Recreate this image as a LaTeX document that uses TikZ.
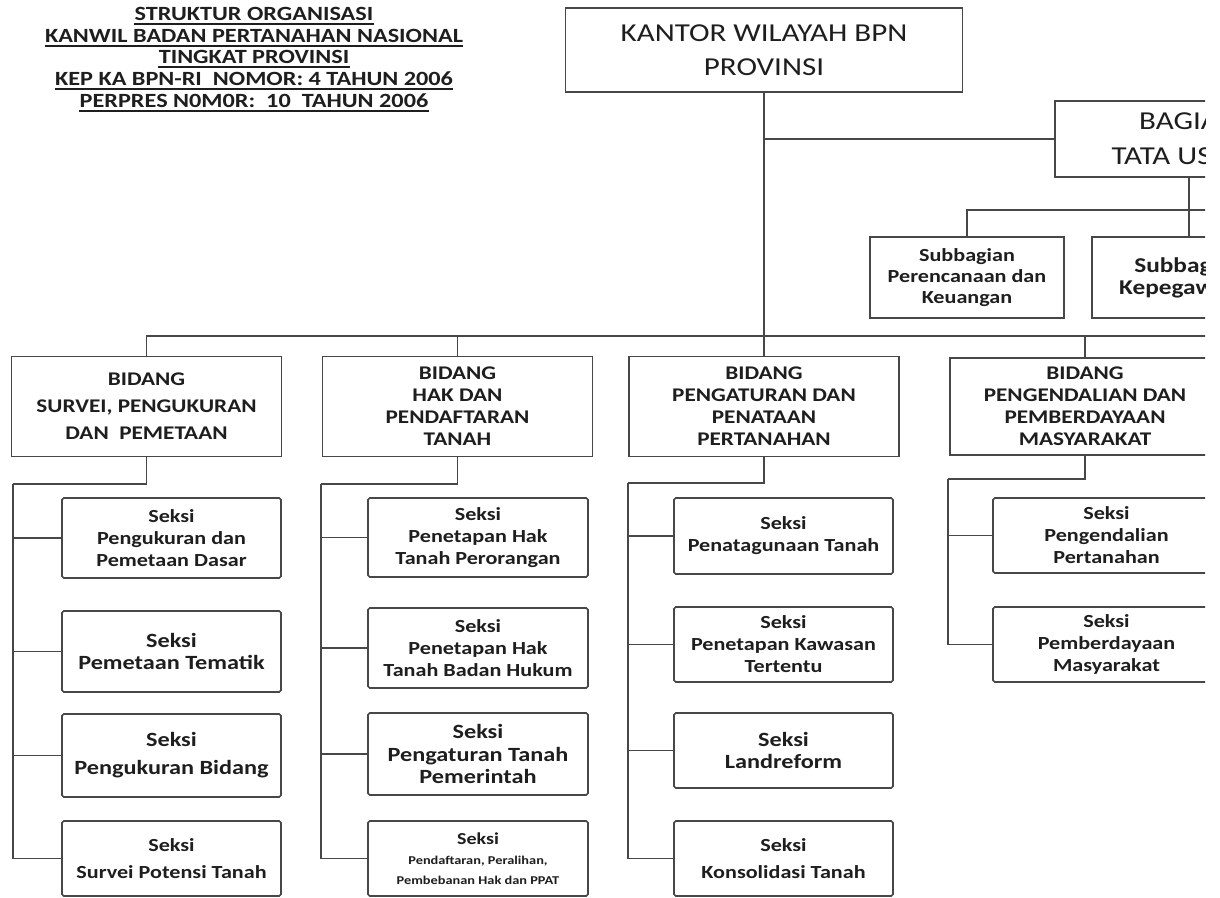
\documentclass[tikz,border=0pt]{standalone}
\usepackage{fontspec}
\setmainfont{Carlito}[FakeStretch=1.2]
\newcommand{\px}{0.02cm}
% fonts for the seksi boxes
\newcommand{\sk}{\bfseries\fontsize{10.5}{12.5}\selectfont}
\newcommand{\skwide}{\bfseries\fontsize{10.5}{15.5}\selectfont}
\newcommand{\skbig}{\bfseries\fontsize{11.5}{13}\selectfont}
\newcommand{\skbigwide}{\bfseries\fontsize{11.5}{16}\selectfont}
\newcommand{\sktiny}{\bfseries\fontsize{6.8}{11.3}\selectfont}
\definecolor{linegray}{HTML}{474747}
\definecolor{inkdark}{HTML}{1E1E1E}

\begin{document}
\begin{tikzpicture}[x=\px, y=-\px,
    conn/.style={draw=linegray, line width=1.1pt},
    unitbox/.style={draw=linegray, line width=0.9pt, fill=white, text=inkdark, align=center, inner sep=0pt},
    headbox/.style={unitbox, font=\fontsize{14.7}{19.5}\selectfont},
    bidangbox/.style={unitbox, minimum width=270*\px, minimum height=100*\px, font=\bfseries\fontsize{11}{12.5}\selectfont},
    seksibox/.style={unitbox, rounded corners=1pt}]
    \useasboundingbox (0,0) rectangle (1220,897);
    \clip (0,0) rectangle (1205,897);

    % Title, every line underlined
    \foreach \i/\y/\txt in {1/20/{STRUKTUR ORGANISASI}, 2/42/{KANWIL BADAN PERTANAHAN NASIONAL}, 3/63/{TINGKAT PROVINSI},
                            4/85/{KEP KA BPN-RI~~NOMOR: 4 TAHUN 2006}, 5/107/{PERPRES N0M0R:~~10~~TAHUN 2006}} {
        \node[anchor=base, inner sep=0pt, text=inkdark, font=\bfseries\fontsize{11.5}{12.2}\selectfont] (judul\i) at (254,\y) {\txt};
        \draw[draw=inkdark, line width=1.2pt] ([yshift=-2.2pt]judul\i.base west) -- ([yshift=-2.2pt]judul\i.base east);
    }

    % Top: kantor wilayah and bagian tata usaha
    \node[headbox, minimum width=397*\px, minimum height=84*\px] (kanwil) at (764,50) {KANTOR WILAYAH BPN\\PROVINSI};
    \node[headbox, font=\fontsize{14.7}{20}\selectfont, minimum width=268*\px, minimum height=76*\px] (bagian) at (1189,139) {BAGIAN\\TATA USAHA};
    \draw[conn] (kanwil.south |- bagian.west) -- (bagian.west);

    % Subbagian
    \node[unitbox, font=\bfseries\fontsize{10.5}{12}\selectfont, minimum width=194*\px, minimum height=81*\px] (subkeu) at (967,277.5) {Subbagian\\Perencanaan dan\\Keuangan};
    \node[unitbox, font=\bfseries\fontsize{12}{12.5}\selectfont, minimum width=194*\px, minimum height=81*\px] (subpeg) at (1189,277.5) {Subbagian\\Kepegawaian};
    \coordinate (subbar) at (1240,210);
    \draw[conn] (bagian.south) -- (subpeg.north);
    \draw[conn] (subkeu.north) |- (subbar);

    % Bidang row
    \coordinate (bar) at (1240,336);
    \node[bidangbox, font=\bfseries\fontsize{11}{15.4}\selectfont] (bid1) at (146.5,406.5) {BIDANG\\SURVEI, PENGUKURAN\\DAN~~PEMETAAN};
    \node[bidangbox] (bid2) at (457.5,406.5) {BIDANG\\HAK DAN\\PENDAFTARAN\\TANAH};
    \node[bidangbox] (bid3) at (764,406.5) {BIDANG\\PENGATURAN DAN\\PENATAAN\\PERTANAHAN};
    \node[bidangbox, minimum height=97*\px] (bid4) at (1085,406.5) {BIDANG\\PENGENDALIAN DAN\\PEMBERDAYAAN\\MASYARAKAT};
    \draw[conn] (kanwil.south) -- (bid3.north);
    \draw[conn] (bid1.north) |- (bar);
    \foreach \b in {2,4} \draw[conn] (bid\b.north) -- (bid\b.north |- bar);

    % Column 1
    \coordinate (sp1) at (13,484);
    \draw[conn] (bid1.south) |- (sp1);
    \foreach \n/\y/\h/\f/\txt in {11/538/80/\sk/{Seksi\\Pengukuran dan\\Pemetaan Dasar},
                                  12/651.5/81/\skbig/{Seksi\\Pemetaan Tematik},
                                  13/755.5/83/\skbigwide/{Seksi\\Pengukuran Bidang},
                                  14/858.5/75/\skwide/{Seksi\\Survei Potensi Tanah}} {
        \node[seksibox, font=\f, minimum width=219*\px, minimum height=\h*\px] (k\n) at (171.5,\y) {\txt};
        \draw[conn] (sp1 |- k\n.west) -- (k\n.west);
    }
    \draw[conn] (sp1) -- (sp1 |- k14.west);

    % Column 2
    \coordinate (sp2) at (321,484);
    \draw[conn] (bid2.south) |- (sp2);
    \foreach \n/\y/\h/\f/\txt in {21/537.5/79/\sk/{Seksi\\Penetapan Hak\\Tanah Perorangan},
                                  22/648/80/\sk/{Seksi\\Penetapan Hak\\Tanah Badan Hukum},
                                  23/754/82/\skbig/{Seksi\\Pengaturan Tanah\\Pemerintah},
                                  24/858.5/75/\sktiny/{{\fontsize{9.5}{11}\selectfont Seksi}\\Pendaftaran, Peralihan,\\Pembebanan Hak dan PPAT}} {
        \node[seksibox, font=\f, minimum width=220*\px, minimum height=\h*\px] (k\n) at (478,\y) {\txt};
        \draw[conn] (sp2 |- k\n.west) -- (k\n.west);
    }
    \draw[conn] (sp2) -- (sp2 |- k24.west);

    % Column 3
    \coordinate (sp3) at (628,483);
    \draw[conn] (bid3.south) |- (sp3);
    \foreach \n/\y/\h/\f/\txt in {31/536/76/\sk/{Seksi\\Penatagunaan Tanah},
                                  32/644.5/75/\sk/{Seksi\\Penetapan Kawasan\\Tertentu},
                                  33/750.5/75/\skbig/{Seksi\\Landreform},
                                  34/858.5/75/\skwide/{Seksi\\Konsolidasi Tanah}} {
        \node[seksibox, font=\f, minimum width=219*\px, minimum height=\h*\px] (k\n) at (783.5,\y) {\txt};
        \draw[conn] (sp3 |- k\n.west) -- (k\n.west);
    }
    \draw[conn] (sp3) -- (sp3 |- k34.west);

    % Column 4
    \coordinate (sp4) at (948,479);
    \draw[conn] (bid4.south) |- (sp4);
    \foreach \n/\y/\f/\txt in {41/535.5/\sk/{Seksi\\Pengendalian\\Pertanahan},
                               42/644.5/\sk/{Seksi\\Pemberdayaan\\Masyarakat}} {
        \node[seksibox, font=\f, minimum width=227*\px, minimum height=75*\px] (k\n) at (1106.5,\y) {\txt};
        \draw[conn] (sp4 |- k\n.west) -- (k\n.west);
    }
    \draw[conn] (sp4) -- (sp4 |- k42.west);
\end{tikzpicture}
\end{document}
